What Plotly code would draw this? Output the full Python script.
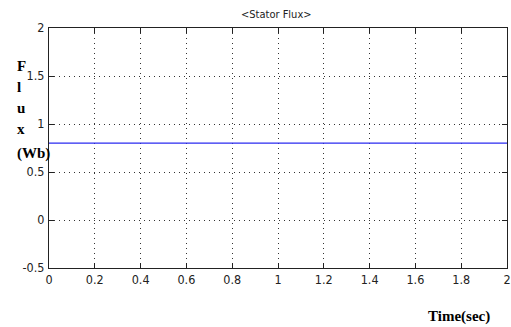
import plotly.graph_objects as go

time_sec = [0, 0.5, 1.0, 1.5, 2.0]
flux_wb = [0.8, 0.8, 0.8, 0.8, 0.8]
x_ticks = [0, 0.2, 0.4, 0.6, 0.8, 1, 1.2, 1.4, 1.6, 1.8, 2]
y_ticks = [-0.5, 0, 0.5, 1, 1.5, 2]
ylabel_lines = ["F", "l", "u", "x", "(Wb)"]

narrow = "DejaVu Sans Condensed, Liberation Sans Narrow, Arial Narrow, sans-serif"
serif = "Liberation Serif, Times New Roman, serif"

fig = go.Figure()
fig.add_trace(go.Scatter(x=time_sec, y=flux_wb, mode="lines",
                         line=dict(color="#2a2af0", width=1.3), showlegend=False))

axis_common = dict(showline=True, linecolor="#222", linewidth=1, mirror="ticks",
                   ticks="inside", ticklen=5, tickcolor="#222", automargin=False,
                   showgrid=True, gridcolor="#333", griddash="1px,4px", gridwidth=1,
                   zeroline=False, ticklabeloverflow="allow",
                   tickfont=dict(family=narrow, size=12.5, color="#222"))

fig.update_xaxes(range=[0, 2], tickvals=x_ticks,
                 ticktext=[str(v) for v in x_ticks], **axis_common)
fig.update_yaxes(range=[-0.5, 2], tickvals=y_ticks,
                 ticktext=[str(v) for v in y_ticks], ticklabelstandoff=1, **axis_common)

W, H = 511, 327
L, R, T, B = 49, 4, 28, 59
pw, ph = W - L - R, H - T - B

def px(xp):
    return (xp - L) / pw

def py(yp):
    return (H - B - yp) / ph

annotations = []
ylabel_y = [66, 87, 108, 129, 153]
for txt, yy in zip(ylabel_lines, ylabel_y):
    annotations.append(dict(text="<b>" + txt + "</b>", xref="paper", yref="paper",
                            x=px(15), y=py(yy), xanchor="left", yanchor="middle",
                            showarrow=False,
                            font=dict(family=serif, size=15, color="black")))
annotations.append(dict(text="<b>Time(sec)</b>", xref="paper", yref="paper",
                        x=px(459), y=py(316), xanchor="center", yanchor="middle",
                        showarrow=False, font=dict(family=serif, size=15, color="black")))
annotations.append(dict(text="&lt;Stator Flux&gt;", xref="paper", yref="paper",
                        x=px(276), y=py(15), xanchor="center", yanchor="middle",
                        showarrow=False, font=dict(family=narrow, size=11, color="#222")))

fig.update_layout(
    width=W, height=H,
    margin=dict(l=L, r=R, t=T, b=B, autoexpand=False),
    plot_bgcolor="white", paper_bgcolor="white",
    annotations=annotations,
)

fig.write_html("out.html", config={"displayModeBar": False},
               post_script="document.body.style.margin='0';document.body.style.overflow='hidden';")
